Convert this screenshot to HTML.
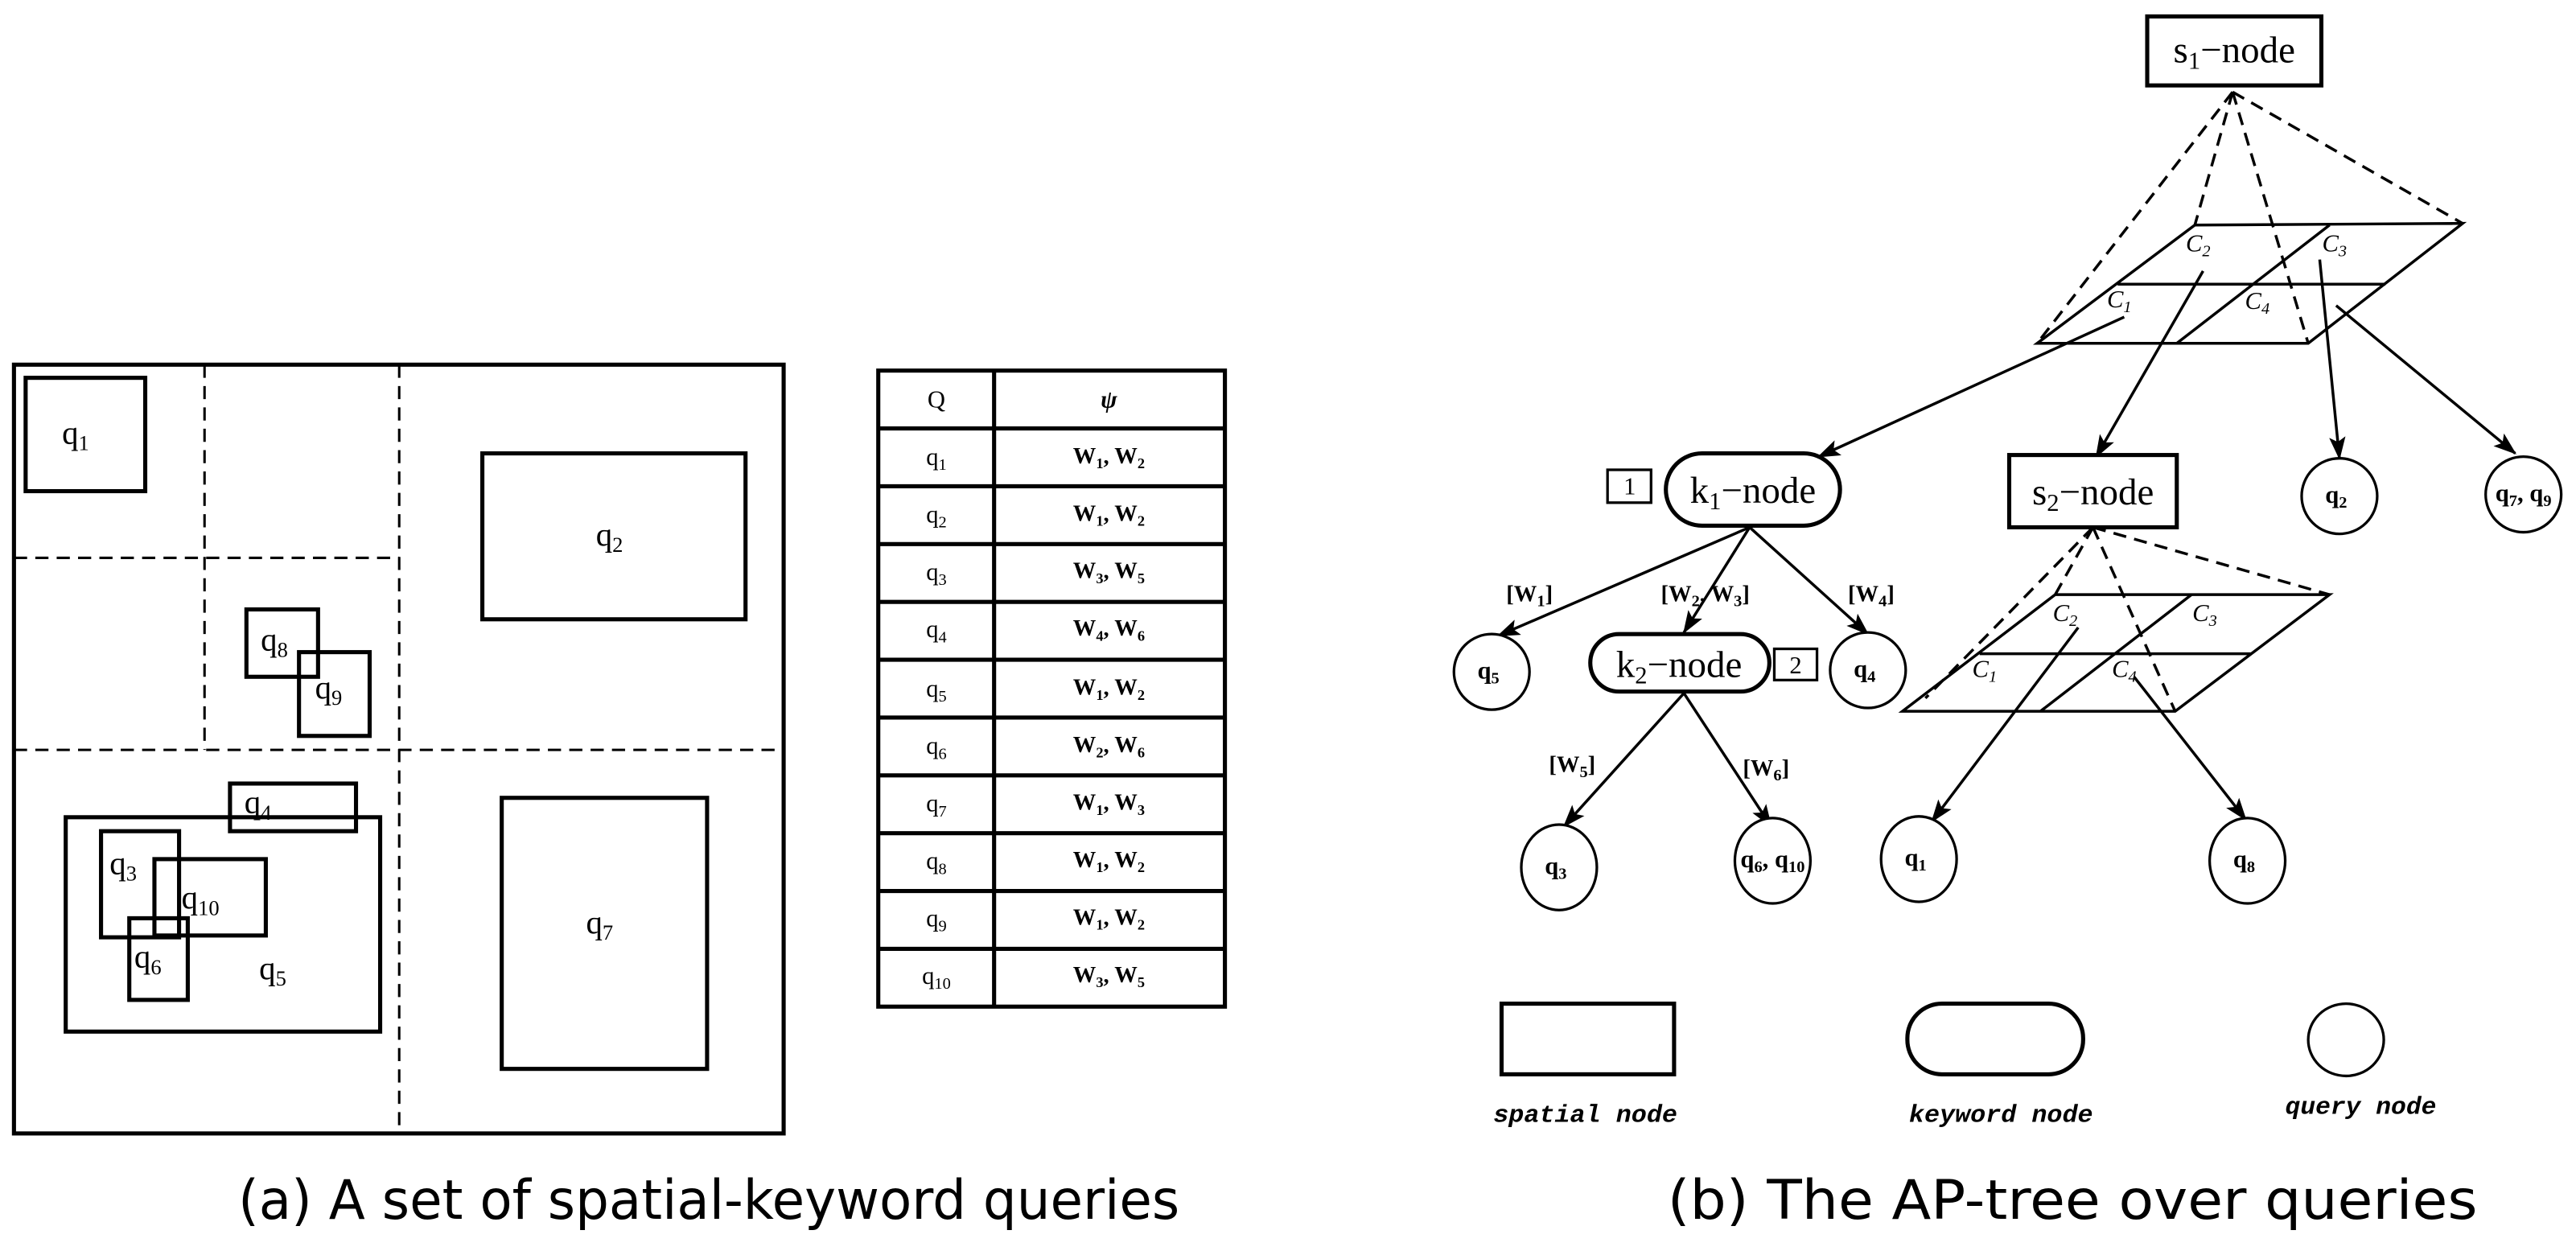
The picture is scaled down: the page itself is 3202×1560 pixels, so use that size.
<!DOCTYPE html>
<html><head><meta charset="utf-8"><style>
html,body{margin:0;padding:0;background:#fff;}
svg{display:block;}
.cm{font-family:"Liberation Serif",serif;}
.tb{font-family:"Liberation Serif",serif;font-size:14px;font-weight:bold;}
</style></head><body>
<svg width="3202" height="1560" viewBox="0 0 1568 764" preserveAspectRatio="none" xmlns="http://www.w3.org/2000/svg">
<defs>
<marker id="ah" markerWidth="14" markerHeight="10" refX="13" refY="5" orient="auto" markerUnits="userSpaceOnUse">
<path d="M0,0 L14,5 L0,10 L3,5 Z" fill="#000"/>
</marker>
</defs>
<rect width="1568" height="764" fill="#fff"/>

<g fill="none" stroke="#000" stroke-width="2.5">
<rect x="8.5" y="222" width="468.5" height="468"/>
<rect x="15.6" y="230" width="72.8" height="69"/>
<rect x="293.6" y="276" width="160.2" height="101"/>
<rect x="150" y="371" width="43.6" height="41"/>
<rect x="182" y="397" width="43" height="51"/>
<rect x="140" y="477" width="76.7" height="29"/>
<rect x="40" y="497.5" width="191.4" height="130.5"/>
<rect x="61.5" y="506" width="47.5" height="64.6"/>
<rect x="94" y="523" width="67.8" height="46.5"/>
<rect x="78.7" y="559" width="35.6" height="49.7"/>
<rect x="305.4" y="485.7" width="125" height="165"/>
</g>
<g fill="none" stroke="#000" stroke-width="1.5" stroke-dasharray="8,5">
<line x1="124.5" y1="222" x2="124.5" y2="456.5"/>
<line x1="243" y1="222" x2="243" y2="690"/>
<line x1="8.5" y1="339.6" x2="243" y2="339.6"/>
<line x1="8.5" y1="456.5" x2="477" y2="456.5"/>
</g>
<g class="cm" font-size="20" text-anchor="middle">
<text x="46" y="270">q<tspan font-size="13" dy="4">1</tspan></text>
<text x="371" y="332">q<tspan font-size="13" dy="4">2</tspan></text>
<text x="167" y="396">q<tspan font-size="13" dy="4">8</tspan></text>
<text x="200" y="425">q<tspan font-size="13" dy="4">9</tspan></text>
<text x="157" y="495">q<tspan font-size="13" dy="4">4</tspan></text>
<text x="75" y="532">q<tspan font-size="13" dy="4">3</tspan></text>
<text x="122" y="553">q<tspan font-size="13" dy="4">10</tspan></text>
<text x="90" y="589">q<tspan font-size="13" dy="4">6</tspan></text>
<text x="166" y="596">q<tspan font-size="13" dy="4">5</tspan></text>
<text x="365" y="568">q<tspan font-size="13" dy="4">7</tspan></text>
</g>

<g fill="none" stroke="#000" stroke-width="2.5">
<rect x="534.6" y="225.6" width="211" height="387.2"/>
<line x1="605.1" y1="225.6" x2="605.1" y2="612.8"/>
<line x1="534.6" y1="260.8" x2="745.6" y2="260.8"/>
<line x1="534.6" y1="296" x2="745.6" y2="296"/>
<line x1="534.6" y1="331.2" x2="745.6" y2="331.2"/>
<line x1="534.6" y1="366.4" x2="745.6" y2="366.4"/>
<line x1="534.6" y1="401.6" x2="745.6" y2="401.6"/>
<line x1="534.6" y1="436.8" x2="745.6" y2="436.8"/>
<line x1="534.6" y1="472" x2="745.6" y2="472"/>
<line x1="534.6" y1="507.2" x2="745.6" y2="507.2"/>
<line x1="534.6" y1="542.4" x2="745.6" y2="542.4"/>
<line x1="534.6" y1="577.6" x2="745.6" y2="577.6"/>
</g>
<g class="cm" font-size="15" text-anchor="middle">
<text x="570" y="248">Q</text>
<text x="675" y="248" font-style="italic" font-weight="bold">ψ</text>
<text x="570" y="283">q<tspan font-size="10" dy="3">1</tspan></text>
<text x="570" y="318">q<tspan font-size="10" dy="3">2</tspan></text>
<text x="570" y="353">q<tspan font-size="10" dy="3">3</tspan></text>
<text x="570" y="388">q<tspan font-size="10" dy="3">4</tspan></text>
<text x="570" y="424">q<tspan font-size="10" dy="3">5</tspan></text>
<text x="570" y="459">q<tspan font-size="10" dy="3">6</tspan></text>
<text x="570" y="494">q<tspan font-size="10" dy="3">7</tspan></text>
<text x="570" y="529">q<tspan font-size="10" dy="3">8</tspan></text>
<text x="570" y="564">q<tspan font-size="10" dy="3">9</tspan></text>
<text x="570" y="599">q<tspan font-size="10" dy="3">10</tspan></text>
</g>
<g class="tb" text-anchor="middle">
<text x="675" y="282">W<tspan font-size="9" dy="3">1</tspan><tspan dy="-3">, W</tspan><tspan font-size="9" dy="3">2</tspan></text>
<text x="675" y="317">W<tspan font-size="9" dy="3">1</tspan><tspan dy="-3">, W</tspan><tspan font-size="9" dy="3">2</tspan></text>
<text x="675" y="352">W<tspan font-size="9" dy="3">3</tspan><tspan dy="-3">, W</tspan><tspan font-size="9" dy="3">5</tspan></text>
<text x="675" y="387">W<tspan font-size="9" dy="3">4</tspan><tspan dy="-3">, W</tspan><tspan font-size="9" dy="3">6</tspan></text>
<text x="675" y="423">W<tspan font-size="9" dy="3">1</tspan><tspan dy="-3">, W</tspan><tspan font-size="9" dy="3">2</tspan></text>
<text x="675" y="458">W<tspan font-size="9" dy="3">2</tspan><tspan dy="-3">, W</tspan><tspan font-size="9" dy="3">6</tspan></text>
<text x="675" y="493">W<tspan font-size="9" dy="3">1</tspan><tspan dy="-3">, W</tspan><tspan font-size="9" dy="3">3</tspan></text>
<text x="675" y="528">W<tspan font-size="9" dy="3">1</tspan><tspan dy="-3">, W</tspan><tspan font-size="9" dy="3">2</tspan></text>
<text x="675" y="563">W<tspan font-size="9" dy="3">1</tspan><tspan dy="-3">, W</tspan><tspan font-size="9" dy="3">2</tspan></text>
<text x="675" y="598">W<tspan font-size="9" dy="3">3</tspan><tspan dy="-3">, W</tspan><tspan font-size="9" dy="3">5</tspan></text>
</g>

<text x="145" y="742" font-family="'DejaVu Sans',sans-serif" font-size="33" textLength="573" lengthAdjust="spacingAndGlyphs">(a) A set of spatial-keyword queries</text>
<text x="1015" y="742" font-family="'DejaVu Sans',sans-serif" font-size="33" textLength="493" lengthAdjust="spacingAndGlyphs">(b) The AP-tree over queries</text>

<g fill="none" stroke="#000" stroke-width="1.7">
<polygon points="1336,137 1499,136 1405,209 1240,209"/>
<line x1="1289" y1="173" x2="1452" y2="173"/>
<line x1="1418" y1="137" x2="1325" y2="209"/>
</g>
<g fill="none" stroke="#000" stroke-width="1.7" stroke-dasharray="8,5">
<line x1="1359" y1="56" x2="1240" y2="209"/>
<line x1="1359" y1="56" x2="1336" y2="137"/>
<line x1="1359" y1="56" x2="1405" y2="209"/>
<line x1="1359" y1="56" x2="1499" y2="136"/>
</g>
<g class="cm" font-size="15" font-style="italic" text-anchor="middle">
<text x="1338" y="153">C<tspan font-size="10" dy="3">2</tspan></text>
<text x="1421" y="153">C<tspan font-size="10" dy="3">3</tspan></text>
<text x="1290" y="187">C<tspan font-size="10" dy="3">1</tspan></text>
<text x="1374" y="188">C<tspan font-size="10" dy="3">4</tspan></text>
</g>
<g fill="none" stroke="#000" stroke-width="1.7">
<polygon points="1251,362 1418,362 1324,433 1158,433"/>
<line x1="1205" y1="398" x2="1370" y2="398"/>
<line x1="1334" y1="362" x2="1242" y2="433"/>
</g>
<g fill="none" stroke="#000" stroke-width="1.7" stroke-dasharray="8,5">
<line x1="1274" y1="321" x2="1172" y2="425"/>
<line x1="1274" y1="321" x2="1251" y2="362"/>
<line x1="1274" y1="321" x2="1324" y2="433"/>
<line x1="1274" y1="321" x2="1418" y2="362"/>
</g>
<g class="cm" font-size="15" font-style="italic" text-anchor="middle">
<text x="1257" y="378">C<tspan font-size="10" dy="3">2</tspan></text>
<text x="1342" y="378">C<tspan font-size="10" dy="3">3</tspan></text>
<text x="1208" y="412">C<tspan font-size="10" dy="3">1</tspan></text>
<text x="1293" y="412">C<tspan font-size="10" dy="3">4</tspan></text>
</g>

<g fill="none" stroke="#000" stroke-width="1.7" marker-end="url(#ah)">
<line x1="1293" y1="193" x2="1107" y2="278"/>
<line x1="1341" y1="165" x2="1276" y2="278"/>
<line x1="1412" y1="158" x2="1424" y2="279"/>
<line x1="1422" y1="186" x2="1531" y2="276"/>
<line x1="1065" y1="321" x2="912" y2="387"/>
<line x1="1065" y1="321" x2="1025" y2="385"/>
<line x1="1065" y1="321" x2="1137" y2="386"/>
<line x1="1025" y1="422" x2="952" y2="503"/>
<line x1="1025" y1="422" x2="1078" y2="503"/>
<line x1="1265" y1="382" x2="1176" y2="500"/>
<line x1="1299" y1="412" x2="1367" y2="499"/>
</g>

<g fill="#fff" stroke="#000" stroke-width="2.5">
<rect x="1307" y="10" width="106" height="42"/>
<rect x="1014" y="276" width="106" height="44" rx="22" ry="22"/>
<rect x="1223" y="277" width="102" height="44"/>
<rect x="968" y="386" width="109" height="35" rx="17.5" ry="17.5"/>
</g>
<g fill="#fff" stroke="#000" stroke-width="1.6">
<rect x="978.5" y="286" width="26.5" height="20"/>
<rect x="1080" y="395" width="26" height="19"/>
<ellipse cx="1424" cy="302" rx="23" ry="23"/>
<ellipse cx="1536" cy="301" rx="23" ry="23"/>
<ellipse cx="908" cy="409" rx="23" ry="23"/>
<ellipse cx="1137" cy="408" rx="23" ry="23"/>
<ellipse cx="949" cy="528" rx="23" ry="26"/>
<ellipse cx="1079" cy="524" rx="23" ry="26"/>
<ellipse cx="1168" cy="523" rx="23" ry="26"/>
<ellipse cx="1368" cy="524" rx="23" ry="26"/>
</g>
<g class="cm" font-size="23" text-anchor="middle">
<text x="1360" y="38">s<tspan font-size="15" dy="4">1</tspan><tspan dy="-4">−node</tspan></text>
<text x="1067" y="306">k<tspan font-size="15" dy="4">1</tspan><tspan dy="-4">−node</tspan></text>
<text x="1274" y="307">s<tspan font-size="15" dy="4">2</tspan><tspan dy="-4">−node</tspan></text>
<text x="1022" y="412">k<tspan font-size="15" dy="4">2</tspan><tspan dy="-4">−node</tspan></text>
</g>
<g class="cm" font-size="15" text-anchor="middle">
<text x="992" y="301">1</text>
<text x="1093" y="410">2</text>
</g>
<g class="cm" font-size="15" font-weight="bold" text-anchor="middle">
<text x="1422" y="306">q<tspan font-size="10" dy="3">2</tspan></text>
<text x="1536" y="305">q<tspan font-size="10" dy="3">7</tspan><tspan dy="-3">, q</tspan><tspan font-size="10" dy="3">9</tspan></text>
<text x="906" y="413">q<tspan font-size="10" dy="3">5</tspan></text>
<text x="1135" y="412">q<tspan font-size="10" dy="3">4</tspan></text>
<text x="947" y="532">q<tspan font-size="10" dy="3">3</tspan></text>
<text x="1079" y="528">q<tspan font-size="10" dy="3">6</tspan><tspan dy="-3">, q</tspan><tspan font-size="10" dy="3">10</tspan></text>
<text x="1166" y="527">q<tspan font-size="10" dy="3">1</tspan></text>
<text x="1366" y="528">q<tspan font-size="10" dy="3">8</tspan></text>
</g>
<g class="tb" font-size="15" text-anchor="middle">
<text x="931" y="366">[W<tspan font-size="10" dy="3">1</tspan><tspan dy="-3">]</tspan></text>
<text x="1038" y="366">[W<tspan font-size="10" dy="3">2</tspan><tspan dy="-3">, W</tspan><tspan font-size="10" dy="3">3</tspan><tspan dy="-3">]</tspan></text>
<text x="1139" y="366">[W<tspan font-size="10" dy="3">4</tspan><tspan dy="-3">]</tspan></text>
<text x="957" y="470">[W<tspan font-size="10" dy="3">5</tspan><tspan dy="-3">]</tspan></text>
<text x="1075" y="472">[W<tspan font-size="10" dy="3">6</tspan><tspan dy="-3">]</tspan></text>
</g>

<g fill="none" stroke="#000">
<rect x="914" y="611" width="105" height="43" stroke-width="2.5"/>
<rect x="1161" y="611" width="107" height="43" rx="21" ry="21" stroke-width="2.5"/>
<ellipse cx="1428" cy="633" rx="23" ry="22" stroke-width="1.6"/>
</g>
<g font-family="'Liberation Mono',monospace" font-size="15" font-weight="bold" font-style="italic" text-anchor="middle">
<text x="965" y="683" textLength="112" lengthAdjust="spacingAndGlyphs">spatial node</text>
<text x="1218" y="683" textLength="112" lengthAdjust="spacingAndGlyphs">keyword node</text>
<text x="1437" y="678" textLength="92" lengthAdjust="spacingAndGlyphs">query node</text>
</g>
</svg>
</body></html>
